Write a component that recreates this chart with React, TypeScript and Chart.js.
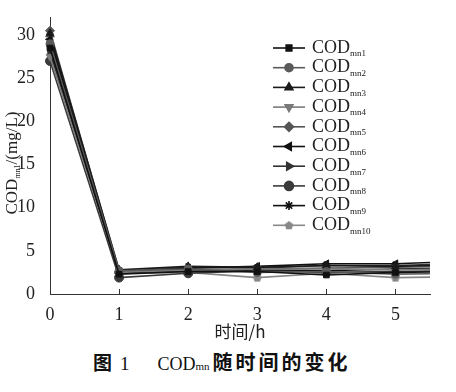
import React, { useEffect, useRef } from "react";
import { Chart, registerables } from "chart.js";
import { drawPoint } from "chart.js/helpers";

Chart.register(...registerables);

const times = [0, 1, 2, 3, 4, 5, 6];
const xTickValues = [0, 1, 2, 3, 4, 5];
const yTickValues = [0, 5, 10, 15, 20, 25, 30];

const seriesNames = ["mn1", "mn2", "mn3", "mn4", "mn5", "mn6", "mn7", "mn8", "mn9", "mn10"];
const mn1 = [28.5, 2.3, 2.6, 2.6, 2.2, 2.5, 2.6];
const mn2 = [29.0, 2.7, 2.9, 2.5, 2.6, 2.3, 2.4];
const mn3 = [30.2, 2.8, 3.2, 3.1, 3.3, 3.2, 3.4];
const mn4 = [27.5, 2.5, 2.8, 2.9, 2.9, 2.8, 2.9];
const mn5 = [30.5, 2.6, 2.7, 2.9, 3.0, 3.1, 3.2];
const mn6 = [29.5, 2.4, 3.0, 3.2, 3.5, 3.5, 3.8];
const mn7 = [28.0, 2.6, 3.1, 3.0, 3.3, 3.3, 3.5];
const mn8 = [27.0, 1.9, 2.4, 2.7, 2.5, 2.6, 2.7];
const mn9 = [29.8, 2.5, 2.7, 2.8, 2.7, 2.9, 3.0];
const mn10 = [28.8, 2.4, 2.5, 1.9, 2.4, 1.9, 2.0];
const seriesValues = [mn1, mn2, mn3, mn4, mn5, mn6, mn7, mn8, mn9, mn10];

const seriesColors = ["#111111", "#5a5a5a", "#1a1a1a", "#7a7a7a", "#555555", "#111111", "#333333", "#3a3a3a", "#111111", "#888888"];

function pentagon(color: string): HTMLCanvasElement {
  const c = document.createElement("canvas");
  c.width = 10;
  c.height = 10;
  const g = c.getContext("2d")!;
  g.fillStyle = color;
  g.beginPath();
  for (let i = 0; i < 5; i++) {
    const a = -Math.PI / 2 + (i * 2 * Math.PI) / 5;
    const px = 5 + 4.6 * Math.cos(a);
    const py = 5.4 + 4.6 * Math.sin(a);
    if (i === 0) g.moveTo(px, py);
    else g.lineTo(px, py);
  }
  g.closePath();
  g.fill();
  return c;
}

const SERIF = "'Liberation Serif', 'DejaVu Serif', serif";
const CJK = "'Noto Sans CJK SC', sans-serif";

export default function App() {
  const ref = useRef<HTMLCanvasElement | null>(null);

  useEffect(() => {
    if (!ref.current) return;
    const styles: any[] = [
      { pointStyle: "rect", rotation: 0, radius: 4 },
      { pointStyle: "circle", rotation: 0, radius: 4 },
      { pointStyle: "triangle", rotation: 0, radius: 4.5 },
      { pointStyle: "triangle", rotation: 180, radius: 4.5 },
      { pointStyle: "rectRot", rotation: 0, radius: 4.5 },
      { pointStyle: "triangle", rotation: -90, radius: 4.5 },
      { pointStyle: "triangle", rotation: 90, radius: 4.5 },
      { pointStyle: "circle", rotation: 0, radius: 4.5 },
      { pointStyle: "star", rotation: 0, radius: 4.5 },
      { pointStyle: pentagon(seriesColors[9]), rotation: 0, radius: 5 },
    ];

    const datasets = seriesNames.map((n, i) => ({
      label: "COD" + n,
      data: times.map((t, j) => ({ x: t, y: seriesValues[i][j] })),
      borderColor: seriesColors[i],
      backgroundColor: seriesColors[i],
      borderWidth: 1.6,
      pointStyle: styles[i].pointStyle,
      pointRotation: styles[i].rotation,
      pointRadius: styles[i].radius,
      pointBorderWidth: 1,
      tension: 0,
      clip: { left: 10, top: 10, right: 0, bottom: 10 },
    }));

    const overlay = {
      id: "overlay",
      afterDraw(chart: any) {
        const ctx = chart.ctx as CanvasRenderingContext2D;
        const xs = chart.scales.x;
        const area = chart.chartArea;
        ctx.save();
        // inward x ticks
        ctx.strokeStyle = "#333";
        ctx.lineWidth = 1;
        xTickValues.forEach((v) => {
          if (v === 0) return;
          const px = Math.round(xs.getPixelForValue(v)) + 0.5;
          ctx.beginPath();
          ctx.moveTo(px, area.bottom);
          ctx.lineTo(px, area.bottom - 5);
          ctx.stroke();
        });
        // y title
        ctx.save();
        ctx.translate(13, 163);
        ctx.rotate(-Math.PI / 2);
        ctx.fillStyle = "#222";
        ctx.textBaseline = "middle";
        const big = "17px " + SERIF;
        const small = "8px " + SERIF;
        ctx.font = big;
        const w1 = ctx.measureText("COD").width;
        const w3 = ctx.measureText("/(mg/L)").width;
        ctx.font = small;
        const w2 = ctx.measureText("mn1").width;
        let sx = -(w1 + w2 + w3) / 2;
        ctx.font = big;
        ctx.textAlign = "left";
        ctx.fillText("COD", sx, 0);
        sx += w1;
        ctx.font = small;
        ctx.fillText("mn1", sx, 5);
        sx += w2;
        ctx.font = big;
        ctx.fillText("/(mg/L)", sx, 0);
        ctx.restore();
        // legend
        const lx0 = 273;
        const lx1 = 305;
        const ly0 = 48;
        const step = 19.7;
        seriesNames.forEach((n, i) => {
          const y = ly0 + i * step;
          ctx.strokeStyle = seriesColors[i];
          ctx.lineWidth = 1.6;
          ctx.beginPath();
          ctx.moveTo(lx0, y);
          ctx.lineTo(lx1, y);
          ctx.stroke();
          ctx.fillStyle = seriesColors[i];
          drawPoint(
            ctx,
            {
              pointStyle: styles[i].pointStyle,
              rotation: styles[i].rotation,
              radius: styles[i].radius,
              borderWidth: 1,
            } as any,
            (lx0 + lx1) / 2,
            y
          );
          ctx.fillStyle = "#222";
          ctx.textAlign = "left";
          ctx.textBaseline = "middle";
          ctx.font = "18px " + SERIF;
          ctx.fillText("COD", 312, y);
          const cw = ctx.measureText("COD").width;
          ctx.font = "9px " + SERIF;
          ctx.fillText(n, 312 + cw, y + 6);
        });
        ctx.restore();
      },
    };

    const chart = new Chart(ref.current, {
      type: "line",
      data: { datasets },
      options: {
        animation: false,
        responsive: true,
        maintainAspectRatio: false,
        layout: { padding: { top: 12, right: 26, left: 0, bottom: 0 } },
        plugins: { legend: { display: false }, tooltip: { enabled: false } },
        scales: {
          x: {
            type: "linear",
            min: 0,
            max: 5.5,
            grid: { display: false },
            border: { display: true, color: "#333", width: 1 },
            afterBuildTicks: (s: any) => {
              s.ticks = xTickValues.map((v) => ({ value: v }));
            },
            afterFit: (s: any) => {
              s.height = 48;
            },
            ticks: {
              padding: 2,
              color: "#222",
              font: { family: SERIF, size: 18 },
              maxRotation: 0,
              autoSkip: false,
            },
            title: {
              display: true,
              text: "时间/h",
              color: "#222",
              font: { family: CJK, size: 17 },
              padding: { top: 0, bottom: 0 },
            },
          },
          y: {
            type: "linear",
            min: 0,
            max: 32,
            grid: { display: false },
            border: { display: true, color: "#333", width: 1 },
            afterBuildTicks: (s: any) => {
              s.ticks = yTickValues.map((v) => ({ value: v }));
            },
            afterFit: (s: any) => {
              s.width = 50;
            },
            ticks: {
              padding: 7,
              color: "#222",
              font: { family: SERIF, size: 18 },
            },
          },
        },
      },
      plugins: [overlay],
    });
    return () => chart.destroy();
  }, []);

  return (
    <div style={{ position: "fixed", left: 0, top: 0, width: 456, height: 392, background: "#fff" }}>
      <div style={{ position: "absolute", left: 0, top: 0, width: 456, height: 342 }}>
        <canvas ref={ref} />
      </div>
      <div
        style={{
          position: "absolute",
          left: 93,
          top: 350,
          whiteSpace: "nowrap",
          color: "#111",
          fontSize: 19,
          lineHeight: "24px",
        }}
      >
        <span style={{ fontFamily: CJK, fontWeight: 700 }}>图</span>
        <span style={{ fontFamily: SERIF, marginLeft: 8 }}>1</span>
        <span style={{ fontFamily: SERIF, marginLeft: 28, fontSize: 18 }}>COD</span>
        <span style={{ fontFamily: SERIF, fontSize: 11 }}>mn</span>
        <span style={{ fontFamily: CJK, fontWeight: 700, marginLeft: 3, letterSpacing: 3, fontSize: 20 }}>随时间的变化</span>
      </div>
    </div>
  );
}
